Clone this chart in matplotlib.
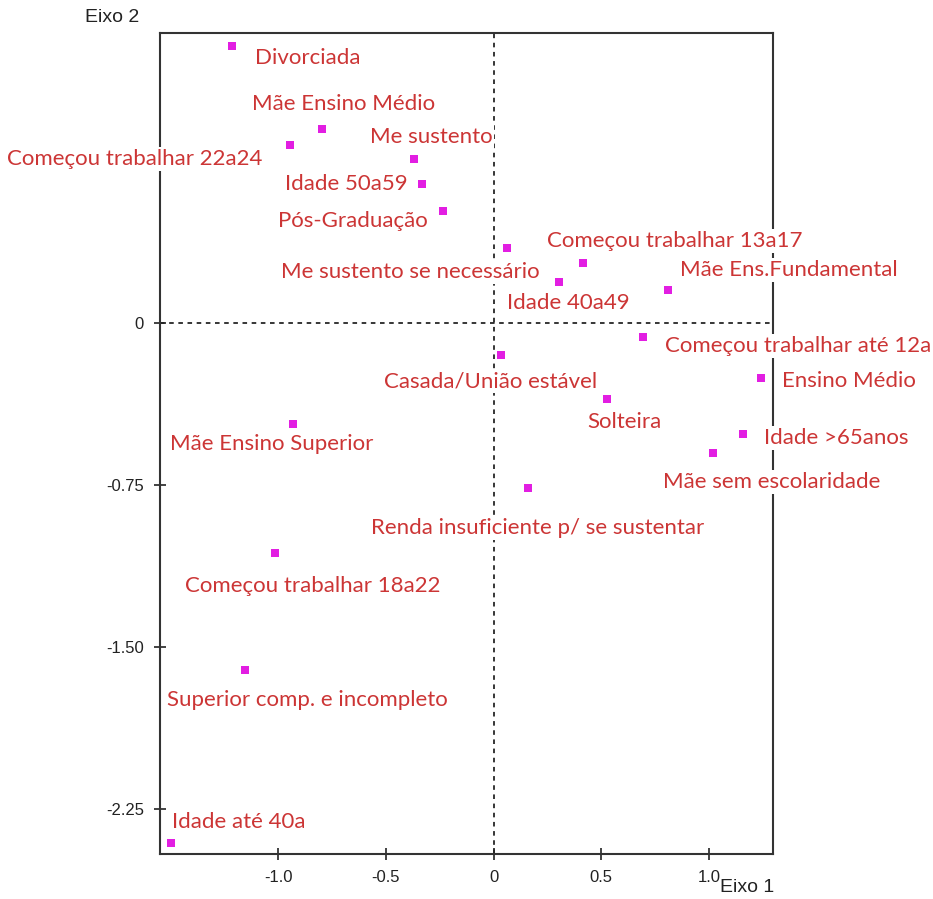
import matplotlib
matplotlib.use("Agg")
import matplotlib.pyplot as plt

# categorias e coordenadas (Eixo 1, Eixo 2)
labels = [
    "Divorciada", "Mãe Ensino Médio", "Começou trabalhar 22a24", "Me sustento",
    "Idade 50a59", "Pós-Graduação", "Me sustento se necessário",
    "Começou trabalhar 13a17", "Idade 40a49", "Mãe Ens.Fundamental",
    "Começou trabalhar até 12a", "Casada/União estável", "Ensino Médio",
    "Solteira", "Mãe Ensino Superior", "Idade >65anos", "Mãe sem escolaridade",
    "Renda insuficiente p/ se sustentar", "Começou trabalhar 18a22",
    "Superior comp. e incompleto", "Idade até 40a",
]
eixo1 = [-1.213, -0.796, -0.944, -0.369, -0.332, -0.234, 0.063, 0.415, 0.304,
         0.809, 0.694, 0.035, 1.241, 0.527, -0.930, 1.158, 1.019, 0.160,
         -1.014, -1.153, -1.497]
eixo2 = [1.282, 0.898, 0.824, 0.759, 0.644, 0.519, 0.347, 0.278, 0.190,
         0.153, -0.065, -0.148, -0.255, -0.352, -0.468, -0.514, -0.602,
         -0.764, -1.065, -1.606, -2.407]

xticks = [-1.0, -0.5, 0.0, 0.5, 1.0]
xticklabels = ["-1.0", "-0.5", "0", "0.5", "1.0"]
yticks = [0.0, -0.75, -1.50, -2.25]
yticklabels = ["0", "-0.75", "-1.50", "-2.25"]

# label placement (pixels from marker) and alignment
offsets = [(23, -12, "left"), (-70, 25, "left"), (-28, -14, "right"),
           (-44, 22, "left"), (-14, 0, "right"), (-15, -10, "right"),
           (33, -24, "right"), (-36, 22, "left"), (-52, -21, "left"),
           (12, 20, "left"), (22, -9, "left"), (-117, -26, "left"),
           (21, -3, "left"), (-20, -23, "left"), (-123, -20, "left"),
           (21, -4, "left"), (-50, -29, "left"), (-157, -40, "left"),
           (-90, -33, "left"), (-78, -30, "left"), (1, 21, "left")]

fig = plt.figure(figsize=(9.33, 8.99), dpi=100)
ax = fig.add_axes([0.1715, 0.0501, 0.657, 0.9132])

ax.axhline(0, color="black", lw=1.1, ls=(0, (3, 3)), zorder=1)
ax.axvline(0, color="black", lw=1.1, ls=(0, (3, 3)), zorder=1)
ax.scatter(eixo1, eixo2, marker="s", s=30, color="#e21ee2", zorder=3, linewidths=0)

for lab, x, y, (dx, dy, ha) in zip(labels, eixo1, eixo2, offsets):
    ax.annotate(lab, (x, y), xytext=(dx, dy), textcoords="offset pixels",
                ha=ha, va="center", fontsize=16, family="Lato", color="#cc3535",
                annotation_clip=False, zorder=5,
                bbox=dict(boxstyle="square,pad=0.08", fc="white", ec="none"))

ax.set_xlim(-1.548, 1.297)
ax.set_ylim(-2.458, 1.343)
ax.set_xticks(xticks)
ax.set_xticklabels(xticklabels)
ax.set_yticks(yticks)
ax.set_yticklabels(yticklabels)
ax.tick_params(direction="inout", length=9, width=1.2, colors="#222222",
               labelsize=12, pad=7)
for lbl in ax.get_xticklabels() + ax.get_yticklabels():
    lbl.set_family("Liberation Sans")
for sp in ax.spines.values():
    sp.set_color("#333333")
    sp.set_linewidth(1.5)

fig.text(720 / 933, 1 - 887 / 899, "Eixo 1", fontsize=14, family="Liberation Sans",
         ha="left", va="center", color="#222222")
fig.text(85 / 933, 1 - 18 / 899, "Eixo 2", fontsize=14, family="Liberation Sans",
         ha="left", va="center", color="#222222")

fig.savefig("out.png", dpi=100)
